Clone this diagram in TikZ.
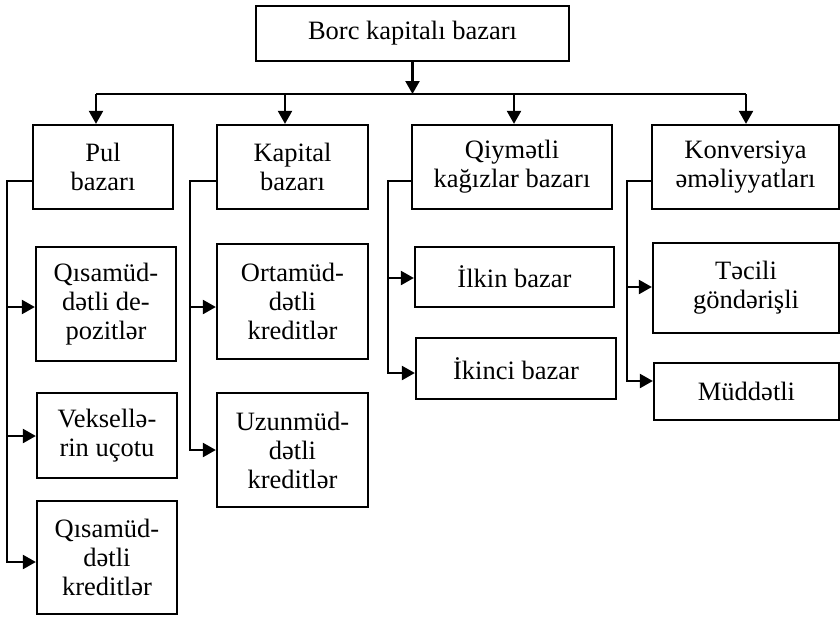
\documentclass[tikz,border=0pt]{standalone}
\usepackage{fontspec}
\setmainfont{Liberation Serif}
\usetikzlibrary{arrows.meta}
\begin{document}
\begin{tikzpicture}[x=1pt,y=-1pt,
  box/.style={draw, line width=2.3pt, inner sep=2pt, align=center,
    font=\fontsize{26.5}{29}\selectfont},
  ln/.style={line width=2.3pt},
  arr/.style={line width=2.3pt, -{Triangle[length=13pt,width=14pt]}}]
\useasboundingbox (0,0) rectangle (840,616);
% boxes
\node[box, minimum width=313pt, minimum height=55pt] (top) at (412.5,33.5) {Borc kapitalı bazarı};
\node[box, minimum width=140pt, minimum height=84pt] (pul) at (103,167) {Pul\\bazarı};
\node[box, minimum width=151pt, minimum height=84pt] (kap) at (292.5,167) {Kapital\\bazarı};
\node[box, minimum width=200pt, minimum height=84pt] (qiy) at (512,167) {Qiymətli\\kağızlar bazarı};
\node[box, minimum width=187pt, minimum height=84pt] (kon) at (745.5,167) {Konversiya\\əməliyyatları};
\node[box, minimum width=140pt, minimum height=114pt] (qa) at (106,304) {Qısamüd-\\dətli de-\\pozitlər};
\node[box, minimum width=140pt, minimum height=85pt] (vek) at (107,435.5) {Veksellə-\\rin uçotu};
\node[box, minimum width=140pt, minimum height=113pt] (qb) at (107,557.5) {Qısamüd-\\dətli\\kreditlər};
\node[box, minimum width=151pt, minimum height=115pt] (orta) at (292.5,301.5) {Ortamüd-\\dətli\\kreditlər};
\node[box, minimum width=151pt, minimum height=114pt] (uzun) at (292.5,450) {Uzunmüd-\\dətli\\kreditlər};
\node[box, minimum width=199pt, minimum height=60pt] (ilk) at (514.5,277) {İlkin bazar};
\node[box, minimum width=200pt, minimum height=61pt] (ikn) at (516,368.5) {İkinci bazar};
\node[box, minimum width=186pt, minimum height=90pt] (tec) at (746,288) {Təcili\\göndərişli};
\node[box, minimum width=185pt, minimum height=57pt] (mud) at (746.5,391.5) {Müddətli};
% top bus
\coordinate (b0) at (413,94);
\coordinate (b1) at (96,94);
\coordinate (b2) at (285,94);
\coordinate (b3) at (514,94);
\coordinate (b4) at (746,94);
\draw[arr] (top.south) -- (top.south |- b0);
\draw[ln] (b1) -- (b4);
\draw[arr] (b1) -- (b1 |- pul.north);
\draw[arr] (b2) -- (b2 |- kap.north);
\draw[arr] (b3) -- (b3 |- qiy.north);
\draw[arr] (b4) -- (b4 |- kon.north);
% Pul branch
\coordinate (pj) at (7,181);
\coordinate (p1) at (7,307);
\coordinate (p2) at (7,436);
\coordinate (p3) at (7,562);
\draw[arr, line join=miter] (pj -| pul.west) -- (pj) -- (p3) -- (p3 -| qb.west);
\draw[arr] (p1) -- (p1 -| qa.west);
\draw[arr] (p2) -- (p2 -| vek.west);
% Kapital branch
\coordinate (kj) at (190,181);
\coordinate (k1) at (190,307);
\coordinate (k2) at (190,450);
\draw[arr, line join=miter] (kj -| kap.west) -- (kj) -- (k2) -- (k2 -| uzun.west);
\draw[arr] (k1) -- (k1 -| orta.west);
% Qiymetli branch
\coordinate (qj) at (388,181);
\coordinate (q1) at (388,278);
\coordinate (q2) at (388,373);
\draw[arr, line join=miter] (qj -| qiy.west) -- (qj) -- (q2) -- (q2 -| ikn.west);
\draw[arr] (q1) -- (q1 -| ilk.west);
% Konversiya branch
\coordinate (cj) at (627,181);
\coordinate (c1) at (627,287);
\coordinate (c2) at (627,381);
\draw[arr, line join=miter] (cj -| kon.west) -- (cj) -- (c2) -- (c2 -| mud.west);
\draw[arr] (c1) -- (c1 -| tec.west);
\end{tikzpicture}
\end{document}
